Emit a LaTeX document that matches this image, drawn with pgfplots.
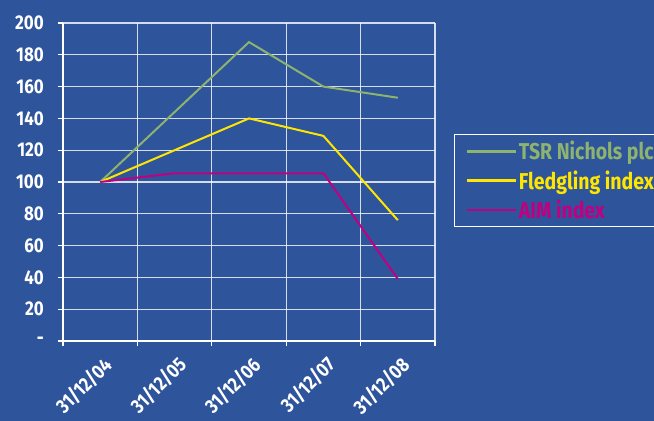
\documentclass[border=0pt]{standalone}
\usepackage{fontspec}
\setmainfont{Fira Sans}[FakeStretch=0.85]
\usepackage{pgfplots}
\pgfplotsset{compat=1.18}
\definecolor{bg}{RGB}{46,84,156}
\definecolor{tsr}{RGB}{141,179,110}
\definecolor{fled}{RGB}{255,230,0}
\definecolor{aim}{RGB}{192,0,128}
\begin{document}
\begin{tikzpicture}
\useasboundingbox (0bp,0bp) rectangle (654bp,421bp);
\clip (0bp,0bp) rectangle (654bp,421bp);
\fill[bg] (0bp,0bp) rectangle (654bp,421bp);
\begin{axis}[
  at={(63bp,80bp)}, anchor=south west, scale only axis,
  width=372bp, height=318bp,
  xmin=-0.5, xmax=4.5, ymin=0, ymax=200,
  axis x line=bottom, axis y line=left,
  axis line style={white, line width=2bp, -},
  xtick={0,1,2,3,4},
  xticklabels={31/12/04,31/12/05,31/12/06,31/12/07,31/12/08},
  minor xtick={-0.5,0.5,1.5,2.5,3.5,4.5},
  ytick={0,20,...,200},
  yticklabels={-,20,40,60,80,100,120,140,160,180,200},
  xminorgrids=true, ymajorgrids=true,
  grid style={white, opacity=0.8, line width=1.2bp},
  minor grid style={white, opacity=0.8, line width=1.2bp},
  tick align=outside,
  major tick length=5bp, minor tick length=5bp,
  x tick style={draw=none},
  minor x tick style={draw=white, line width=1.2bp},
  y tick style={draw=white, line width=1.2bp},
  /pgf/number format/assume math mode=true,
  ticklabel style={text=white, font=\fontsize{20}{22}\selectfont\bfseries},
  xticklabel style={rotate=45, anchor=north east, inner sep=0pt, xshift=-5bp, yshift=-7bp},
  yticklabel style={anchor=east, inner sep=0pt, xshift=-14bp},
  legend style={at={(axis description cs:1.051,0.652)}, anchor=north west,
    draw=white, line width=1.5bp, fill=none, inner xsep=11bp, inner ysep=5bp,
    font=\fontsize{23}{26}\selectfont\bfseries, row sep=5bp,
    nodes={inner sep=2bp}},
  legend cell align=left,
  legend image code/.code={\draw[#1, line width=2.2bp] (0bp,0bp) -- (49bp,0bp);},
]
\addplot[tsr, line width=2bp] coordinates {(0,100) (1,144) (2,188) (3,160) (4,153)};
\addlegendentry{\textcolor{tsr}{TSR Nichols plc}}
\addplot[fled, line width=2bp] coordinates {(0,100) (1,120) (2,140) (3,129) (4,76)};
\addlegendentry{\textcolor{fled}{Fledgling index}}
\addplot[aim, line width=2bp] coordinates {(0,100) (1,105.5) (2,105.5) (3,105.5) (4,39)};
\addlegendentry{\textcolor{aim}{AIM index}}
\end{axis}
\end{tikzpicture}
\end{document}
